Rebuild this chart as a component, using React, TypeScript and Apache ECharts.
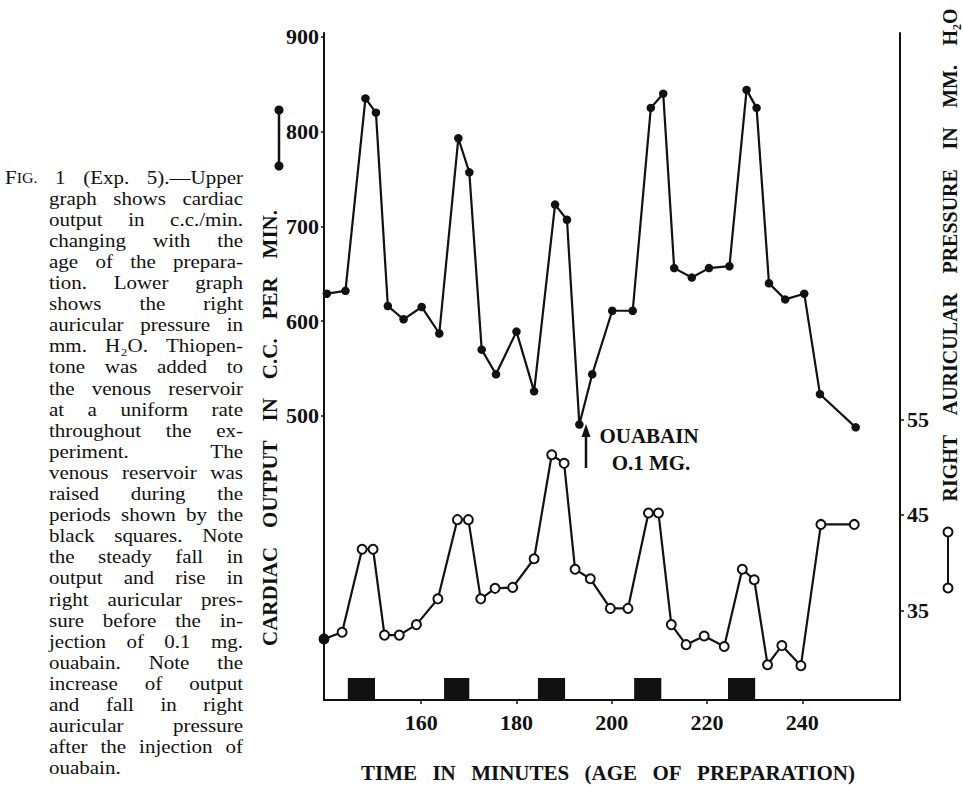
import React, { useEffect, useRef } from 'react';
import * as echarts from 'echarts';

// ---- data ----
const timeOutput = [140.2, 144.1, 148.3, 150.5, 153.0, 156.3, 160.1, 163.8, 167.8, 170.1, 172.7, 175.7, 180.0, 183.7, 188.1, 190.6, 193.2, 195.9, 200.1, 204.4, 208.2, 210.8, 213.1, 216.8, 220.4, 224.7, 228.3, 230.4, 233.0, 236.4, 240.4, 243.7, 251.2];
const cardiacOutput = [629, 632, 835, 820, 616, 602, 615, 587, 793, 757, 570, 544, 589, 526, 723, 707, 491, 544, 611, 611, 825, 840, 656, 646, 656, 658, 844, 825, 640, 623, 629, 523, 488];
const timePressure = [139.6, 143.4, 147.6, 149.9, 152.3, 155.4, 159.0, 163.5, 167.6, 169.9, 172.5, 175.5, 179.2, 183.7, 187.4, 190.0, 192.3, 195.5, 199.7, 203.4, 207.7, 209.8, 212.5, 215.6, 219.4, 223.6, 227.4, 229.9, 232.7, 235.7, 239.7, 243.9, 250.9];
const pressure = [32.0, 32.7, 41.4, 41.4, 32.4, 32.4, 33.5, 36.2, 44.5, 44.5, 36.2, 37.3, 37.4, 40.4, 51.3, 50.4, 39.3, 38.3, 35.2, 35.2, 45.2, 45.2, 33.5, 31.4, 32.3, 31.2, 39.3, 38.2, 29.3, 31.3, 29.2, 44.0, 44.0];
const reservoirStart = [144.6, 164.8, 184.5, 204.7, 224.4];
const reservoirEnd = [150.3, 170.1, 190.2, 210.4, 230.1];
const timeTicks = [160, 180, 200, 220, 240];
const outputTicks = [500, 600, 700, 800, 900];
const pressureTicks = [35, 45, 55];

const xTitle = 'TIME IN MINUTES (AGE OF PREPARATION)';
const leftTitle = 'CARDIAC OUTPUT IN C.C. PER MIN.';
const rightTitle = 'RIGHT AURICULAR PRESSURE IN MM. H\u2082O';
const captionLines = [
  'FIG. 1 (Exp. 5).\u2014Upper',
  'graph shows cardiac',
  'output in c.c./min.',
  'changing with the',
  'age of the prepara-',
  'tion. Lower graph',
  'shows the right',
  'auricular pressure in',
  'mm. H\u2082O. Thiopen-',
  'tone was added to',
  'the venous reservoir',
  'at a uniform rate',
  'throughout the ex-',
  'periment. The',
  'venous reservoir was',
  'raised during the',
  'periods shown by the',
  'black squares. Note',
  'the steady fall in',
  'output and rise in',
  'right auricular pres-',
  'sure before the in-',
  'jection of 0.1 mg.',
  'ouabain. Note the',
  'increase of output',
  'and fall in right',
  'auricular pressure',
  'after the injection of',
  'ouabain.',
];

const INK = '#111';
const SERIF = '"Liberation Serif", "Times New Roman", serif';
const X_MIN = 139.6, X_MAX = 260.5;
const OUT_MIN = 200.4, OUT_MAX = 904;
const P_MIN = 25.6, P_MAX = 95.5;

export default function App() {
  const ref = useRef<HTMLDivElement>(null);
  useEffect(() => {
    if (!ref.current) return;
    const chart = echarts.init(ref.current, null, { renderer: 'svg' });
    const canvas = document.createElement('canvas');
    const ctx = canvas.getContext('2d') as CanvasRenderingContext2D;
    const measure = (t: string, font: string) => { ctx.font = font; return ctx.measureText(t).width; };

    const capFont = `21px ${SERIF}`;
    const scFont = `16px ${SERIF}`;
    const boldTitle = `bold 21px ${SERIF}`;
    const boldRight = `bold 20px ${SERIF}`;

    const tokenWidth = (w: string, font: string) =>
      w === 'FIG.' ? measure('F', capFont) + measure('IG.', scFont) : measure(w, font);

    const layout = (words: string[], font: string, x0: number, x1: number, justify: boolean) => {
      const widths = words.map((w) => tokenWidth(w, font));
      const total = widths.reduce((a, b) => a + b, 0);
      const gap = justify && words.length > 1 ? (x1 - x0 - total) / (words.length - 1) : measure(' ', font);
      let x = x0;
      return words.map((w, i) => { const r = { w, x }; x += widths[i] + gap; return r; });
    };

    const txt = (text: string, x: number, y: number, font: string, align = 'left', scaleY = 1) => ({
      type: 'text', x, y, scaleY, silent: true,
      style: { text, font, fill: INK, textAlign: align, align, textVerticalAlign: 'middle', verticalAlign: 'middle' },
    });

    const graphics: any[] = [];
    // caption (slightly condensed vertically so that the tight leading of the print fits)
    captionLines.forEach((line, i) => {
      const y = 177 + 21.1 * i;
      const words = line.split(' ');
      const last = i === captionLines.length - 1;
      const x0 = i === 0 ? 5 : 49;
      layout(words, capFont, x0, 243, !last).forEach(({ w, x }) => {
        if (w === 'FIG.') {
          graphics.push(txt('F', x, y, capFont, 'left', 0.88));
          graphics.push(txt('IG.', x + measure('F', capFont), y + 1.5, scFont, 'left', 0.88));
        } else {
          graphics.push(txt(w, x, y, capFont, 'left', 0.88));
        }
      });
    });
    // x title
    layout(xTitle.split(' '), boldTitle, 361, 855, true).forEach(({ w, x }) => graphics.push(txt(w, x, 773, boldTitle)));
    // rotated titles
    const rotated = (title: string, font: string, cx: number, cy: number, len: number) => ({
      type: 'group', x: cx, y: cy, rotation: Math.PI / 2, silent: true,
      children: layout(title.split(' '), font, -len / 2, len / 2, true).map(({ w, x }) => txt(w, x, 0, font)),
    });
    graphics.push(rotated(leftTitle, boldTitle, 270, 428, 436));
    graphics.push(rotated(rightTitle, boldRight, 950, 255, 493));
    // ouabain annotation
    graphics.push(txt('OUABAIN', 649, 436, `bold 21px ${SERIF}`, 'center'));
    graphics.push(txt('O.1 MG.', 651, 463, `bold 21px ${SERIF}`, 'center'));
    graphics.push({ type: 'line', silent: true, shape: { x1: 586, y1: 468, x2: 586, y2: 433 }, style: { stroke: INK, lineWidth: 2.5 } });
    graphics.push({ type: 'polygon', silent: true, shape: { points: [[586, 424], [581.5, 437], [590.5, 437]] }, style: { fill: INK } });
    // legend keys
    graphics.push({ type: 'line', silent: true, shape: { x1: 279, y1: 110, x2: 279, y2: 166 }, style: { stroke: INK, lineWidth: 2.5 } });
    graphics.push({ type: 'circle', silent: true, shape: { cx: 279, cy: 110, r: 4.5 }, style: { fill: INK } });
    graphics.push({ type: 'circle', silent: true, shape: { cx: 279, cy: 166, r: 4.5 }, style: { fill: INK } });
    graphics.push({ type: 'line', silent: true, shape: { x1: 948, y1: 532, x2: 948, y2: 588 }, style: { stroke: INK, lineWidth: 2 } });
    graphics.push({ type: 'circle', silent: true, z: 10, shape: { cx: 948, cy: 532, r: 4.5 }, style: { fill: '#fff', stroke: INK, lineWidth: 2 } });
    graphics.push({ type: 'circle', silent: true, z: 10, shape: { cx: 948, cy: 588, r: 4.5 }, style: { fill: '#fff', stroke: INK, lineWidth: 2 } });

    const labelStyle = { color: INK, fontFamily: SERIF, fontWeight: 'bold' as const, fontSize: 22 };

    const option: any = {
      animation: false,
      backgroundColor: '#fff',
      grid: { left: 324, right: 63, top: 33, bottom: 86, containLabel: false },
      xAxis: {
        type: 'value', min: X_MIN, max: X_MAX,
        axisLine: { show: true, onZero: false, lineStyle: { color: INK, width: 2 } },
        axisTick: { show: true, customValues: timeTicks, length: 4, lineStyle: { color: INK, width: 1.5 } },
        axisLabel: { ...labelStyle, customValues: timeTicks, margin: 11 },
        splitLine: { show: false },
      },
      yAxis: [
        {
          type: 'value', position: 'left', min: OUT_MIN, max: OUT_MAX,
          axisLine: { show: true, onZero: false, lineStyle: { color: INK, width: 2 } },
          axisTick: { show: true, customValues: outputTicks, length: 3, lineStyle: { color: INK, width: 1.5 } },
          axisLabel: { ...labelStyle, customValues: outputTicks, margin: 5 },
          splitLine: { show: false },
        },
        {
          type: 'value', position: 'right', min: P_MIN, max: P_MAX,
          axisLine: { show: true, onZero: false, lineStyle: { color: INK, width: 2 } },
          axisTick: { show: true, customValues: pressureTicks, length: 4, lineStyle: { color: INK, width: 1.5 } },
          axisLabel: { ...labelStyle, customValues: pressureTicks, margin: 7 },
          splitLine: { show: false },
        },
      ],
      series: [
        {
          name: 'Cardiac output', type: 'line', xAxisIndex: 0, yAxisIndex: 0, clip: false, z: 3,
          data: timeOutput.map((t, i) => [t, cardiacOutput[i]]),
          symbol: 'circle', symbolSize: 8.5,
          itemStyle: { color: INK },
          lineStyle: { color: INK, width: 2.2 },
        },
        {
          name: 'Right auricular pressure', type: 'line', xAxisIndex: 0, yAxisIndex: 1, clip: false, z: 3,
          data: timePressure.map((t, i) => (i === 0 ? { value: [t, pressure[i]], itemStyle: { color: INK } } : [t, pressure[i]])),
          symbol: 'circle', symbolSize: 9,
          itemStyle: { color: '#fff', borderColor: INK, borderWidth: 2 },
          lineStyle: { color: INK, width: 2.2 },
        },
        {
          name: 'Reservoir raised', type: 'custom', xAxisIndex: 0, yAxisIndex: 0, z: 4,
          data: reservoirStart.map((s, i) => [s, reservoirEnd[i]]),
          encode: { x: [0, 1] },
          renderItem: (_p: any, api: any) => {
            const a = api.coord([api.value(0), OUT_MIN]);
            const b = api.coord([api.value(1), OUT_MIN]);
            return { type: 'rect', shape: { x: a[0], y: a[1] - 22, width: b[0] - a[0], height: 22 }, style: { fill: INK } };
          },
        },
      ],
      graphic: graphics,
    };
    chart.setOption(option);
    return () => chart.dispose();
  }, []);
  return <div ref={ref} style={{ position: 'absolute', left: 0, top: 0, width: 963, height: 786, background: '#fff' }} />;
}
